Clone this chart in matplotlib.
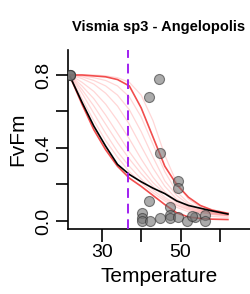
import matplotlib
matplotlib.use("Agg")
import matplotlib.pyplot as plt

plt.rcParams['font.family'] = ['Liberation Sans', 'DejaVu Sans']

# measured FvFm per leaf
temp = [22, 22, 22, 44.5, 42.1, 44.8, 49.3, 49.3, 42.1,
        40.2, 40.2, 40.2, 42.3, 44.8, 47.3, 47.3, 47.3, 49.4, 51.6, 53.7, 56.2, 56.2, 52.8]
fvfm = [0.80, 0.80, 0.80, 0.78, 0.68, 0.37, 0.22, 0.18, 0.11,
        0.042, 0.015, 0.0, 0.0, 0.015, 0.075, 0.033, 0.016, 0.024, 0.0, 0.024, 0.033, 0.0, 0.03]

# fitted curves
curve_x = [22, 25, 28, 31, 34, 37, 40, 43, 46, 49, 52, 55, 58, 62]
fit_mean = [0.79, 0.65, 0.52, 0.41, 0.31, 0.255, 0.215, 0.18, 0.15, 0.11, 0.085, 0.07, 0.055, 0.038]
ci_upper = [0.80, 0.80, 0.795, 0.79, 0.775, 0.74, 0.62, 0.46, 0.30, 0.20, 0.13, 0.085, 0.06, 0.042]
ci_lower = [0.79, 0.64, 0.50, 0.39, 0.30, 0.235, 0.19, 0.14, 0.09, 0.045, 0.022, 0.014, 0.01, 0.008]

boot_curves = [
    [0.80, 0.67, 0.55, 0.44, 0.35, 0.27, 0.21, 0.155, 0.11, 0.075, 0.05, 0.035, 0.025, 0.02],
    [0.80, 0.70, 0.59, 0.48, 0.38, 0.30, 0.23, 0.17, 0.12, 0.085, 0.06, 0.045, 0.035, 0.028],
    [0.80, 0.72, 0.63, 0.53, 0.43, 0.34, 0.26, 0.19, 0.13, 0.09, 0.065, 0.048, 0.037, 0.03],
    [0.80, 0.74, 0.67, 0.58, 0.48, 0.38, 0.29, 0.21, 0.15, 0.10, 0.07, 0.05, 0.04, 0.03],
    [0.80, 0.76, 0.71, 0.64, 0.55, 0.45, 0.34, 0.24, 0.16, 0.11, 0.075, 0.055, 0.042, 0.032],
    [0.80, 0.78, 0.75, 0.70, 0.63, 0.53, 0.41, 0.29, 0.19, 0.12, 0.08, 0.058, 0.044, 0.034],
    [0.80, 0.79, 0.77, 0.74, 0.69, 0.61, 0.49, 0.35, 0.22, 0.14, 0.09, 0.06, 0.045, 0.035],
    [0.80, 0.795, 0.785, 0.77, 0.74, 0.68, 0.57, 0.42, 0.27, 0.16, 0.10, 0.065, 0.048, 0.036],
    [0.80, 0.80, 0.80, 0.795, 0.785, 0.76, 0.69, 0.55, 0.36, 0.21, 0.12, 0.075, 0.05, 0.038],
]

t_crit = 36.75
title = "Vismia sp3 - Angelopolis"

fig = plt.figure(figsize=(2.5, 2.94), dpi=100)
ax = fig.add_axes([0.272, 0.221, 0.728, 0.609])

for yb in boot_curves:
    ax.plot(curve_x, yb, color=(1.0, 0.55, 0.55), alpha=0.35, lw=0.9, zorder=1)
ax.plot(curve_x, ci_upper, color=(0.95, 0.3, 0.3), lw=1.2, zorder=3)
ax.plot(curve_x, ci_lower, color=(0.95, 0.3, 0.3), lw=1.2, zorder=3)
ax.plot(curve_x, fit_mean, color='black', lw=1.2, zorder=4)

ax.scatter(temp, fvfm, s=52, facecolor=(0.45, 0.45, 0.45, 0.6),
           edgecolor=(0.2, 0.2, 0.2, 0.6), linewidth=0.8, zorder=5)

ax.axvline(t_crit, color='#A020F0', ls=(0, (5, 3)), lw=1.4, zorder=6)

ax.set_xlim(21.45, 67.6)
ax.set_ylim(-0.044, 0.937)

ax.spines['top'].set_visible(False)
ax.spines['right'].set_visible(False)
for s in ['left', 'bottom']:
    ax.spines[s].set_linewidth(1.2)

ax.set_xticks([30, 40, 50, 60])
ax.set_xticklabels(['30', '', '50', ''])
ax.set_yticks([0.0, 0.2, 0.4, 0.6, 0.8])
ax.set_yticklabels(['0.0', '', '0.4', '', '0.8'], rotation=90, va='center')
ax.tick_params(length=9, width=1.2, labelsize=14, pad=2)

ax.set_xlabel('Temperature', fontsize=15, labelpad=4)
ax.set_ylabel('FvFm', fontsize=15, labelpad=6)
ax.set_title(title, fontsize=10.5, fontweight='bold', pad=14)

fig.savefig('out.png', dpi=100)
